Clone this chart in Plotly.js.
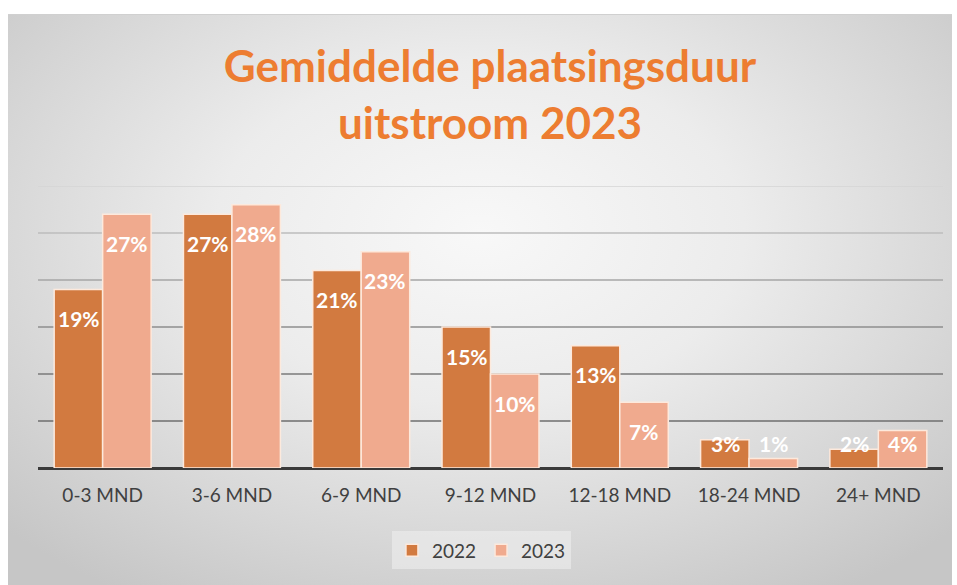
<!DOCTYPE html>
<html>
<head>
<meta charset="utf-8">
<script src="https://cdn.plot.ly/plotly-3.0.1.min.js"></script>
<style>
  html, body { margin: 0; padding: 0; background: #ffffff; width: 957px; height: 585px; overflow: hidden; }
  #bg { position: absolute; left: 8px; top: 14px; width: 944px; height: 571px;
        background: radial-gradient(ellipse 70% 75% at 50% 38%, #f8f8f8 0%, #ececec 40%, #d6d6d6 75%, #c6c6c6 100%);
        border-top: 1px solid #d0d0d0; }
  #chart { position: absolute; left: 0; top: 0; width: 957px; height: 585px; }
</style>
</head>
<body>
<div id="bg"></div>
<div id="chart"></div>
<script>
const categories = ["0-3 MND", "3-6 MND", "6-9 MND", "9-12 MND", "12-18 MND", "18-24 MND", "24+ MND"];
const values2022 = [19, 27, 21, 15, 13, 3, 2];
const values2023 = [27, 28, 23, 10, 7, 1, 4];
const seriesNames = ["2022", "2023"];
const gridValues = [5, 10, 15, 20, 25, 30];
const gridColors = ["#6e6e6e", "#7a7a7a", "#8e8e8e", "#a6a6a6", "#bdbdbd", "#d4d4d4"];

const FONT = "Lato, 'Open Sans', sans-serif";
const labelFont = { family: FONT, size: 21, color: "#ffffff", weight: "bold" };

function barTrace(name, vals, color) {
  return {
    type: "bar", name: name, x: categories, y: vals,
    marker: { color: color, line: { color: "#fde9dc", width: 1.5 } },
    hoverinfo: "skip"
  };
}

const data = [
  barTrace(seriesNames[0], values2022, "#d27a40"),
  barTrace(seriesNames[1], values2023, "#f0aa8e")
];

const shapes = gridValues.map((v, i) => ({
  type: "line", xref: "paper", yref: "y", x0: 0, x1: 1, y0: v, y1: v,
  line: { color: gridColors[i], width: 1.5 }, layer: "below"
}));

// data labels: "inside end", clamped above the baseline for short bars
const pxPerUnit = (585 - 186 - 117) / 30;
function labels(vals, shift) {
  return vals.map((v, i) => {
    const inside = v * pxPerUnit >= 53;
    return {
      x: categories[i], y: inside ? v : 0, xref: "x", yref: "y",
      text: v + "%", showarrow: false, font: labelFont,
      xshift: shift, yshift: inside ? -29 : 25, yanchor: "middle", xanchor: "center"
    };
  });
}
const annotations = labels(values2022, -24).concat(labels(values2023, 24));

const layout = {
  width: 957, height: 585,
  paper_bgcolor: "rgba(0,0,0,0)", plot_bgcolor: "rgba(0,0,0,0)",
  margin: { l: 38, r: 14, t: 186, b: 117 },
  title: {
    text: "Gemiddelde plaatsingsduur<br>uitstroom 2023",
    font: { family: FONT, size: 44, color: "#ed7d31", weight: "bold" },
    x: 0.512, xanchor: "center", y: 0.86, yanchor: "top"
  },
  barmode: "group", bargap: 0.25, bargroupgap: 0.0,
  xaxis: {
    type: "category", showgrid: false, zeroline: false,
    showline: false, ticks: "",
    tickfont: { family: FONT, size: 19, color: "#404040" },
    ticklabelstandoff: 14
  },
  yaxis: {
    range: [0, 30], showgrid: false, showticklabels: false, zeroline: true,
    zerolinecolor: "#3a3a3a", zerolinewidth: 3, ticks: "", fixedrange: true
  },
  shapes: shapes,
  annotations: annotations,
  legend: {
    orientation: "h", x: 0.49, xanchor: "center", y: -0.225, yanchor: "top",
    font: { family: FONT, size: 19, color: "#404040" },
    bgcolor: "rgba(238,238,238,0.6)", traceorder: "normal",
    itemwidth: 30
  },
  showlegend: true
};

Plotly.newPlot("chart", data, layout, { staticPlot: true, displayModeBar: false });
</script>
</body>
</html>
